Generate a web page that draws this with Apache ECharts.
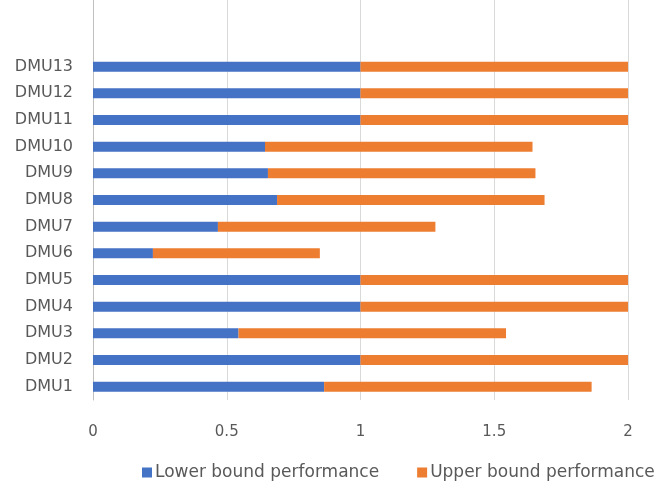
<!DOCTYPE html>
<html>
<head>
<meta charset="utf-8">
<script src="https://cdn.jsdelivr.net/npm/echarts@6/dist/echarts.min.js"></script>
<style>
  html, body { margin: 0; padding: 0; background: #fff; }
  #chart { width: 669px; height: 489px; }
</style>
</head>
<body>
<div id="chart"></div>
<script>
// two blank slots sit above DMU13 in the original
var categories = ['DMU1', 'DMU2', 'DMU3', 'DMU4', 'DMU5', 'DMU6', 'DMU7',
    'DMU8', 'DMU9', 'DMU10', 'DMU11', 'DMU12', 'DMU13', '', ''];
var lowerBound = [0.864, 1, 0.544, 1, 1, 0.224, 0.467, 0.688, 0.654, 0.643, 1, 1, 1, null, null];
var upperBound = [1, 1, 1, 1, 1, 0.624, 0.813, 1, 1, 1, 1, 1, 1, null, null];
var xTicks = [0, 0.5, 1, 1.5, 2];

var chart = echarts.init(document.getElementById('chart'));
var textColor = '#595959';
var font = 'DejaVu Sans';

chart.setOption({
    animation: false,
    backgroundColor: '#fff',
    grid: {
        left: 93,
        right: 41,
        top: 0,
        bottom: 89,
        containLabel: false
    },
    legend: {
        bottom: 3,
        left: 137,
        itemWidth: 10,
        itemHeight: 10,
        itemGap: 38,
        icon: 'rect',
        textStyle: { color: textColor, fontFamily: font, fontSize: 17, padding: [0, 0, 0, -2] },
        data: ['Lower bound performance', 'Upper bound performance']
    },
    xAxis: {
        type: 'value',
        min: xTicks[0],
        max: xTicks[xTicks.length - 1],
        interval: 0.5,
        axisLine: { show: false },
        axisTick: { show: false },
        splitLine: { lineStyle: { color: '#d9d9d9', width: 1 } },
        axisLabel: {
            color: textColor,
            fontFamily: font,
            fontSize: 15,
            margin: 25
        }
    },
    yAxis: {
        type: 'category',
        data: categories,
        axisLine: { lineStyle: { color: '#bfbfbf' } },
        axisTick: { length: 6, lineStyle: { color: '#bfbfbf' } },
        axisLabel: {
            color: textColor,
            fontFamily: font,
            fontSize: 16,
            margin: 20
        }
    },
    series: [
        {
            name: 'Lower bound performance',
            type: 'bar',
            stack: 'perf',
            barWidth: 10,
            itemStyle: { color: '#4472C4' },
            data: lowerBound
        },
        {
            name: 'Upper bound performance',
            type: 'bar',
            stack: 'perf',
            barWidth: 10,
            itemStyle: { color: '#ED7D31' },
            data: upperBound
        }
    ]
});
</script>
</body>
</html>
